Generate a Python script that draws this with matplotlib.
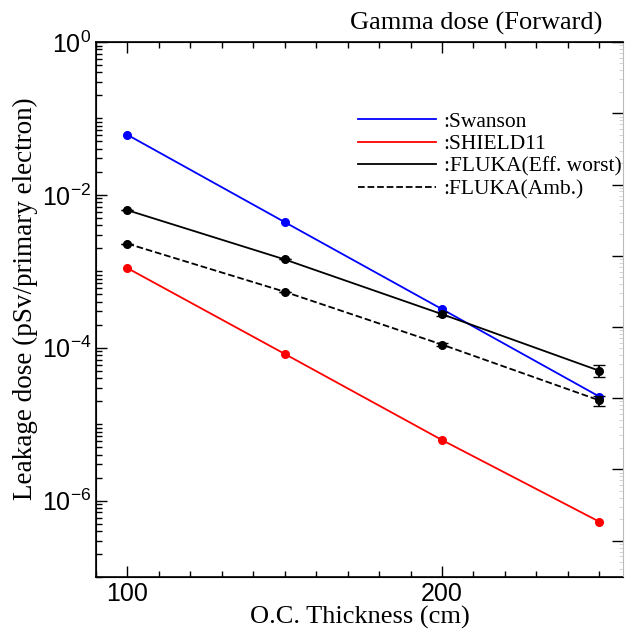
import numpy as np
import matplotlib.pyplot as plt
from matplotlib.lines import Line2D
from matplotlib.ticker import LogLocator, NullFormatter, MultipleLocator

plt.rcParams['mathtext.fontset'] = 'custom'
plt.rcParams['mathtext.rm'] = 'Liberation Sans'
plt.rcParams['mathtext.it'] = 'Liberation Sans'

# Data
thickness = np.array([100, 150, 200, 250])
swanson = np.array([6.1e-2, 4.4e-3, 3.2e-4, 2.3e-5])
shield11 = np.array([1.1e-3, 8.3e-5, 6.2e-6, 5.3e-7])
fluka_eff = np.array([6.3e-3, 1.43e-3, 2.75e-4, 5.0e-5])
fluka_eff_err = np.array([0.0, 0.0, 1.5e-5, 9.0e-6])
fluka_amb = np.array([2.3e-3, 5.4e-4, 1.1e-4, 2.05e-5])
fluka_amb_err = np.array([0.0, 0.0, 5e-6, 3.0e-6])
labels = [':Swanson', ':SHIELD11', ':FLUKA(Eff. worst)', ':FLUKA(Amb.)']

serif = ['Liberation Serif', 'DejaVu Serif']
sans = ['Liberation Sans', 'DejaVu Sans']

fig = plt.figure(figsize=(6.26, 6.37), dpi=100)
ax = fig.add_axes([0.1534, 0.0942, 0.8415, 0.8398])

ax.plot(thickness, swanson, color='blue', lw=1.3, marker='o', ms=5.5)
ax.plot(thickness, shield11, color='red', lw=1.3, marker='o', ms=5.5)
ax.errorbar(thickness, fluka_eff, yerr=fluka_eff_err, color='black', lw=1.3,
            marker='o', ms=5.5, capsize=4)
ax.errorbar(thickness, fluka_amb, yerr=fluka_amb_err, color='black', lw=1.3, ls='--',
            marker='o', ms=5.5, capsize=4)

ax.set_yscale('log')
ax.set_ylim(1e-7, 1)
ax.set_xlim(90, 257.5)
ax.set_xticks([100, 200])
ax.xaxis.set_minor_locator(MultipleLocator(10))
ax.set_yticks([1, 1e-2, 1e-4, 1e-6])
ax.set_yticks([1e-1, 1e-3, 1e-5, 1e-7] + [s * 10.0**e for e in range(-7, 0) for s in range(2, 10)], minor=True)
ax.set_yticklabels([r'$10^{0}$', r'$10^{-2}$', r'$10^{-4}$', r'$10^{-6}$'])
ax.yaxis.set_minor_formatter(NullFormatter())

ax.tick_params(which='both', direction='in', top=True, right=False, labelsize=18)
ax.tick_params(which='major', length=8, width=1)
ax.tick_params(which='minor', length=4, width=1)
for lab in ax.get_xticklabels() + ax.get_yticklabels():
    lab.set_family(sans)
for sp in ax.spines.values():
    sp.set_linewidth(1.2)
ax.spines['right'].set_visible(False)

# right axis with its own decade spacing
ax2 = ax.twinx()
ax2.set_yscale('log')
ax2.set_ylim(10**-7.51, 1)
ax2.yaxis.set_major_locator(LogLocator(base=10, numticks=20))
ax2.yaxis.set_minor_locator(LogLocator(base=10, subs=np.arange(2, 10), numticks=20))
ax2.tick_params(which='major', direction='in', length=8, width=1, labelright=False)
ax2.tick_params(which='minor', direction='in', length=3, width=0.6, color='#cccccc', labelright=False)
ax2.spines['right'].set_color('#bbbbbb')
ax2.spines['right'].set_linewidth(0.8)

ax.set_xlabel('O.C. Thickness (cm)', family=serif, fontsize=19, labelpad=0)
ax.set_ylabel('Leakage dose (pSv/primary electron)', family=serif, fontsize=19.5, labelpad=0)
ax.yaxis.set_label_coords(-0.11, 0.52)
fig.text(0.963, 0.963, 'Gamma dose (Forward)', family=serif, fontsize=19, ha='right', va='center')

handles = [Line2D([], [], color='blue', lw=1.3),
           Line2D([], [], color='red', lw=1.3),
           Line2D([], [], color='black', lw=1.3),
           Line2D([], [], color='black', lw=1.3, ls='--')]
fig.legend(handles, labels, loc='upper left', bbox_to_anchor=(0.572, 0.825), frameon=False,
           borderpad=0, borderaxespad=0, handlelength=3.6, handletextpad=0.37,
           labelspacing=0.12, prop={'family': serif, 'size': 15.5})

fig.savefig('out.png', dpi=100)
